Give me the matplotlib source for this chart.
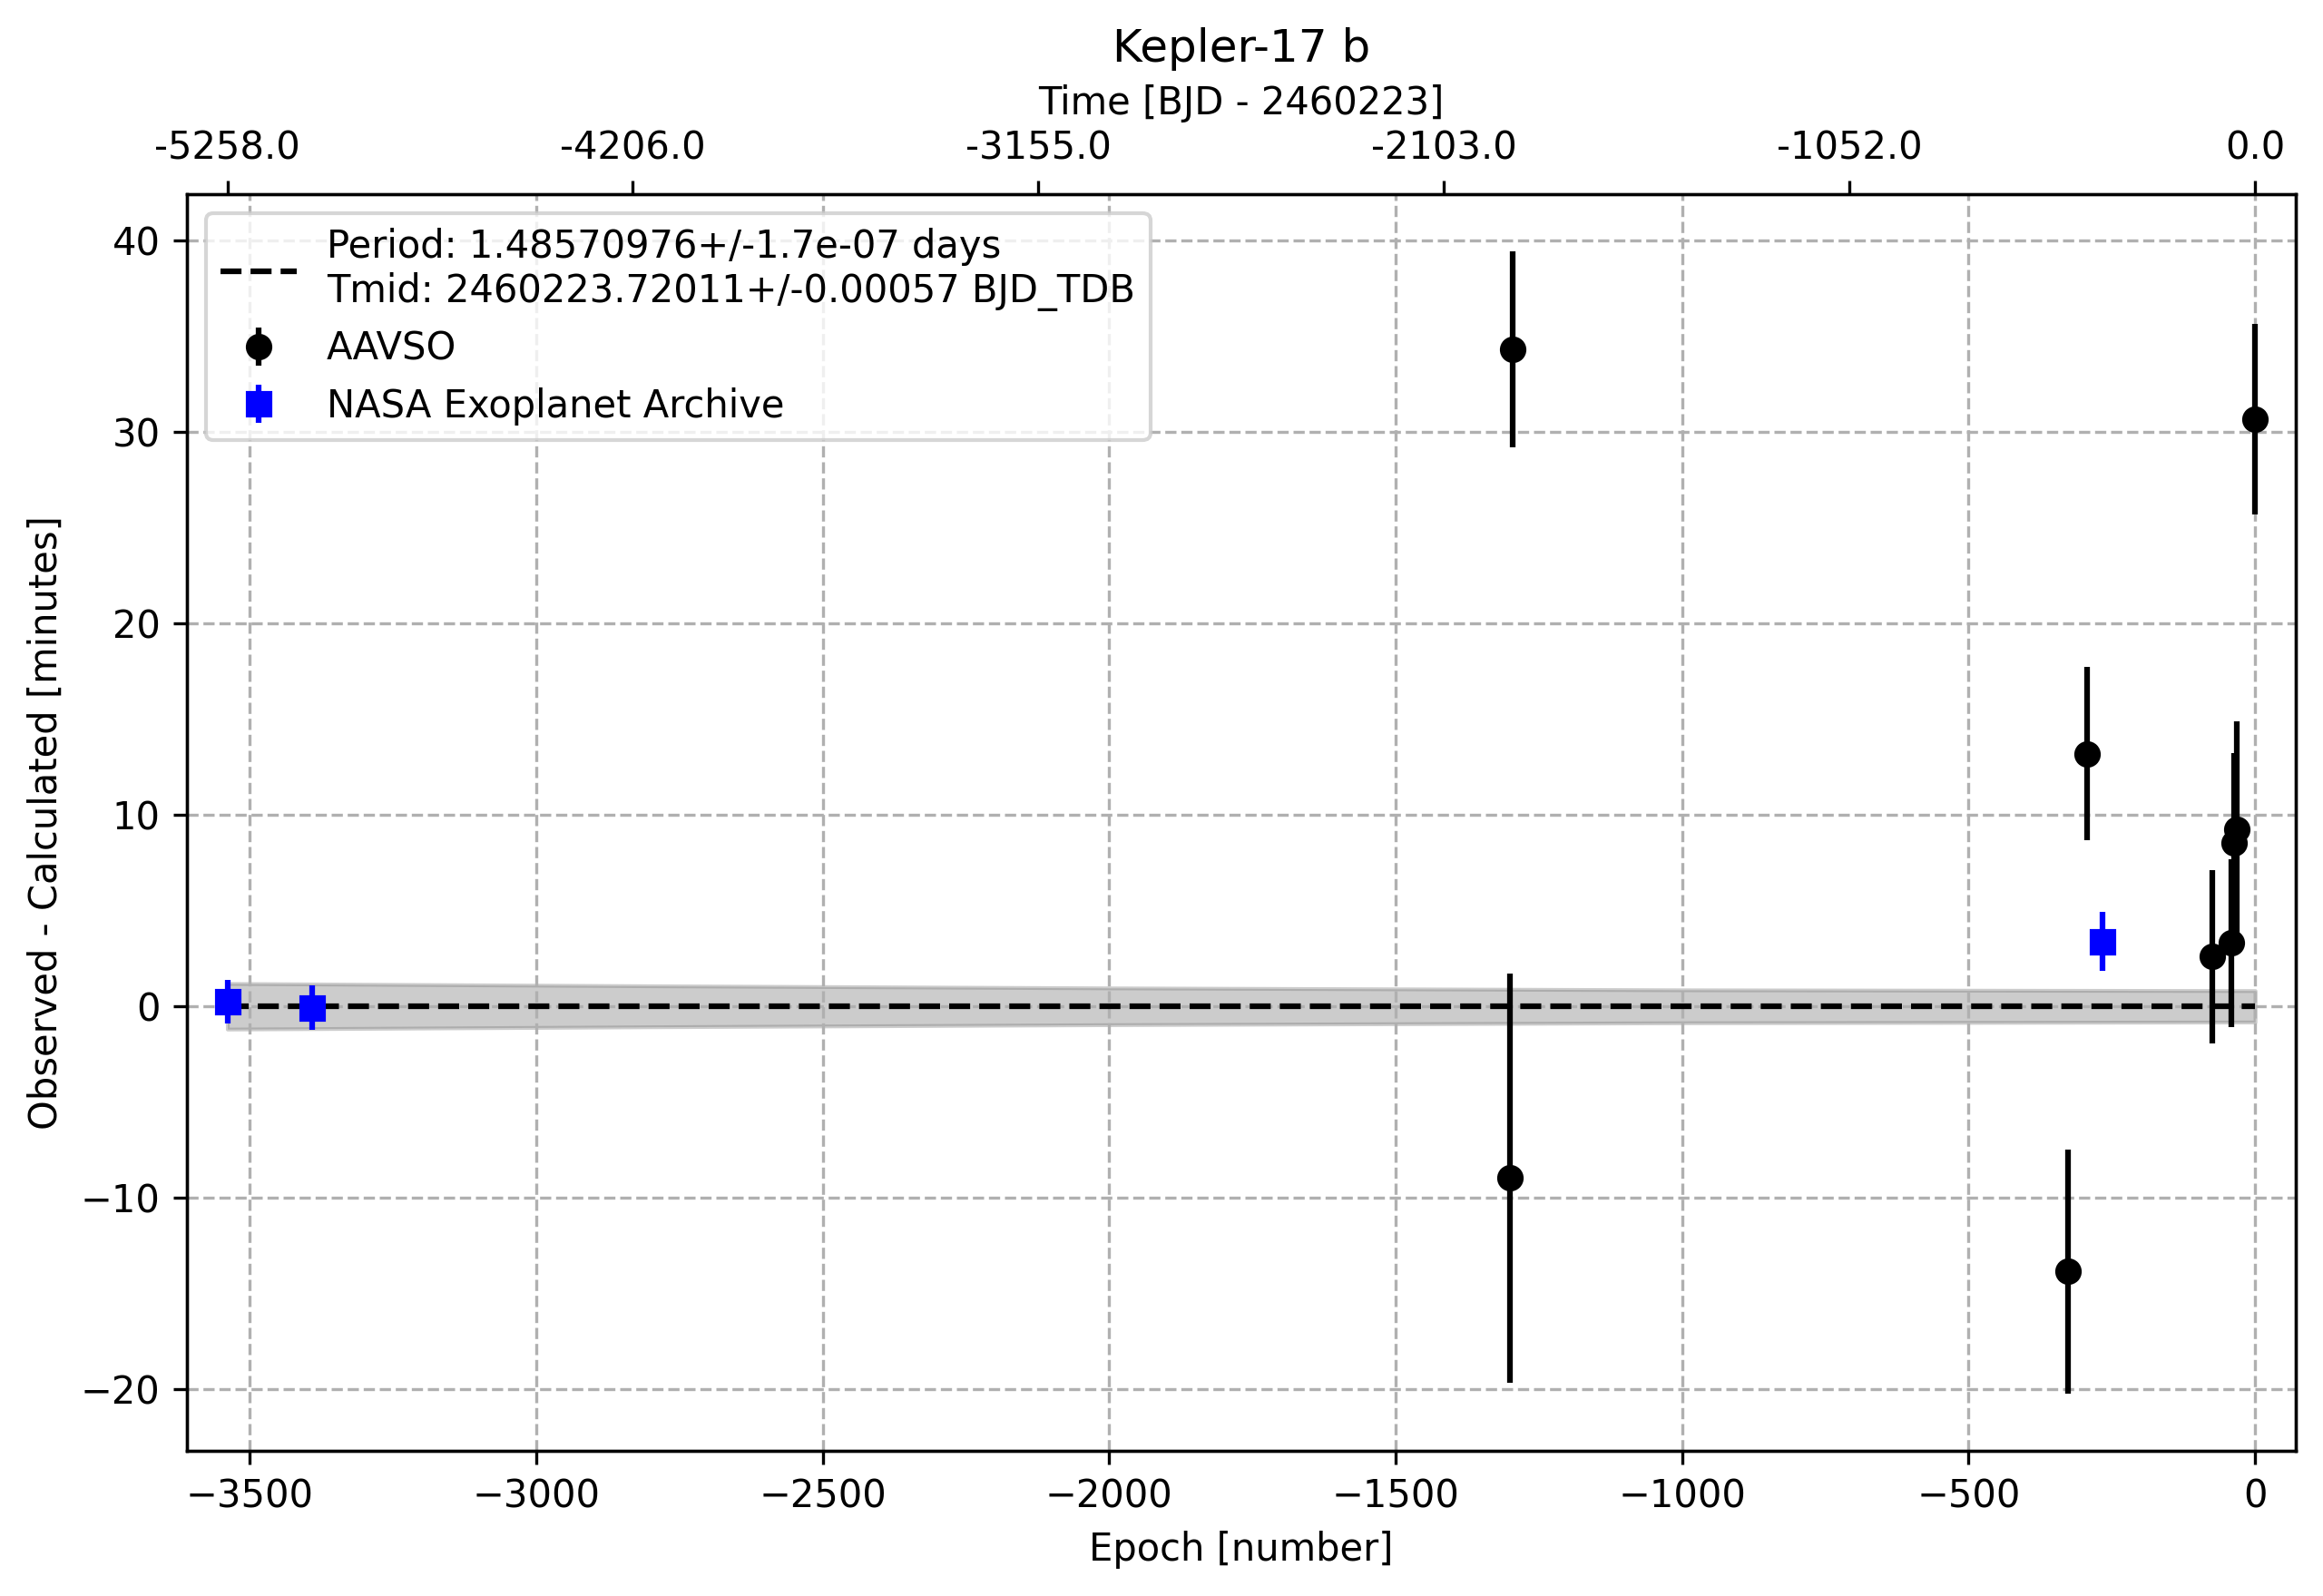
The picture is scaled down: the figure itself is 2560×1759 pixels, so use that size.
import numpy as np
import matplotlib
matplotlib.use("Agg")
import matplotlib.pyplot as plt

# Fit parameters (from legend)
period = 1.48570976
period_err = 1.7e-07
tmid = 2460223.72011
tmid_err = 0.00057

# AAVSO observations: epoch, O-C [min], error [min]
aavso_epoch = [-1301, -1295, -327, -294, -74, -41, -36, -32, 0]
aavso_oc = [-8.97, 34.31, -13.85, 13.19, 2.59, 3.30, 8.51, 9.22, 30.65]
aavso_err = [10.69, 5.11, 6.38, 4.53, 4.53, 4.40, 4.72, 5.65, 4.97]

# NASA Exoplanet Archive
nasa_epoch = [-3539, -3391, -267]
nasa_oc = [0.26, -0.07, 3.38]
nasa_err = [1.14, 1.14, 1.54]

# ephemeris uncertainty band
band_epoch = [-3539, -2800, -2000, -1000, 0]
band_half = [1.19, 1.07, 0.96, 0.86, 0.82]

top_labels = ["-5258.0", "-4206.0", "-3155.0", "-2103.0", "-1052.0", "0.0"]

fig, ax = plt.subplots(figsize=(2560 / 300, 1759 / 300), dpi=300)

ax.errorbar(aavso_epoch, aavso_oc, yerr=aavso_err, fmt='o', color='black',
            label='AAVSO')
ax.errorbar(nasa_epoch, nasa_oc, yerr=nasa_err, fmt='s', color='blue',
            label='NASA Exoplanet Archive')

band_epoch = np.array(band_epoch)
band_half = np.array(band_half)
ax.plot(band_epoch, np.zeros_like(band_epoch), 'k--',
        label=f"Period: {period}+/-{period_err:.1e} days\n"
              f"Tmid: {tmid}+/-{tmid_err} BJD_TDB")
ax.fill_between(band_epoch, -band_half, band_half, color='gray', alpha=0.4)

ax.set_xlim(-3610, 71)
ax.set_xlabel("Epoch [number]")
ax.set_ylabel("Observed - Calculated [minutes]")
ax.grid(True, ls='--')
ax.legend(loc='upper left')

# top axis in time
ax2 = ax.twiny()
ax2.set_xlim(ax.get_xlim())
top_ticks = np.linspace(min(nasa_epoch), max(aavso_epoch), len(top_labels))
ax2.set_xticks(top_ticks)
ax2.set_xticklabels(top_labels)
ax2.set_xlabel("Time [BJD - 2460223]")
ax.set_title("Kepler-17 b")

plt.tight_layout(pad=0.72)
plt.savefig("out.png")
